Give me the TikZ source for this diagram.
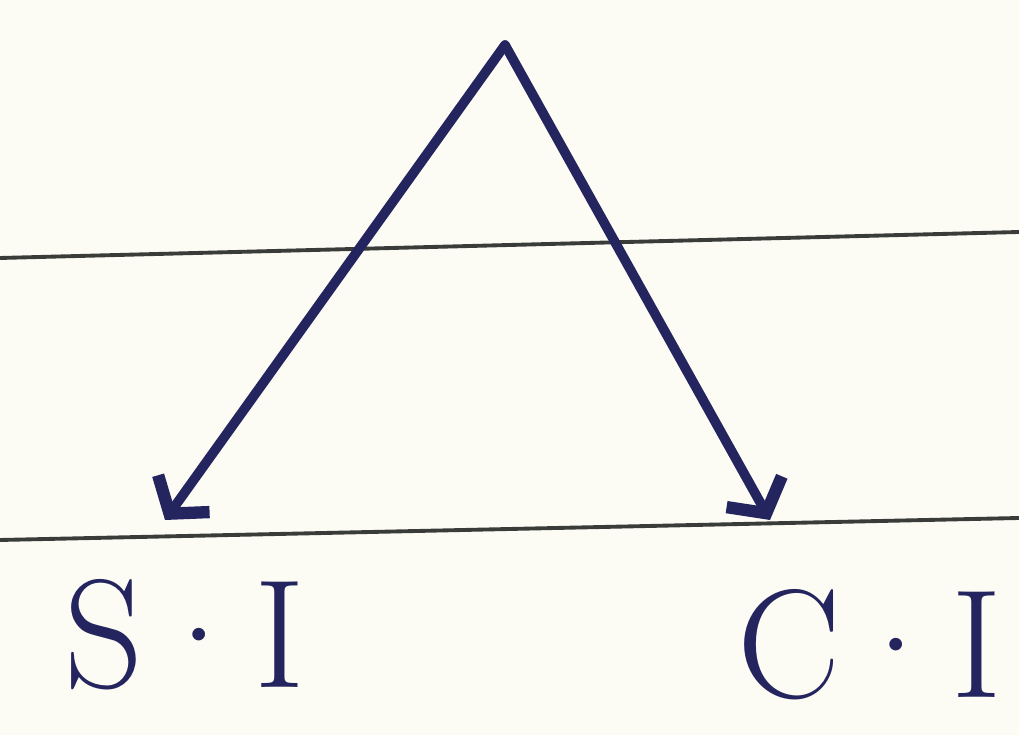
\documentclass[tikz,border=0pt]{standalone}
\usepackage{tikz}
\usetikzlibrary{arrows.meta,positioning,calc}

\definecolor{ink}{HTML}{24245E}
\definecolor{paper}{HTML}{FCFBF4}
\definecolor{rule}{HTML}{3A3C3A}

\tikzset{
    pen/.style={ink, line width=5.5pt, line cap=round, line join=round,
        -{Straight Barb[length=14pt, width=36pt, line width=7pt]}},
    lbl/.style={ink, font=\fontsize{88}{92}\selectfont}
}

\begin{document}
\begin{tikzpicture}
    % Paper
    \fill[paper] (0, 0) rectangle (20.38, 14.7);
    \useasboundingbox (0, 0) rectangle (20.38, 14.7);

    % Ruled lines
    \draw[rule, line width=2.2pt] (0, 9.54) -- (20.38, 10.06);
    \draw[rule, line width=2.2pt] (0, 3.9) -- (20.38, 4.34);

    % Apex and arrow ends
    \coordinate (apex) at (10.1, 13.8);
    \coordinate (sitip) at (3.3, 4.3);
    \coordinate (citip) at (15.4, 4.3);

    % Labels
    \node[lbl] (si) at (3.7, 2.0) {S·I};
    \node[lbl] (ci) at (17.4, 1.8) {C·I};

    % Arrows
    \draw[pen] (apex) -- (sitip);
    \draw[pen] (apex) -- (citip);
\end{tikzpicture}
\end{document}
